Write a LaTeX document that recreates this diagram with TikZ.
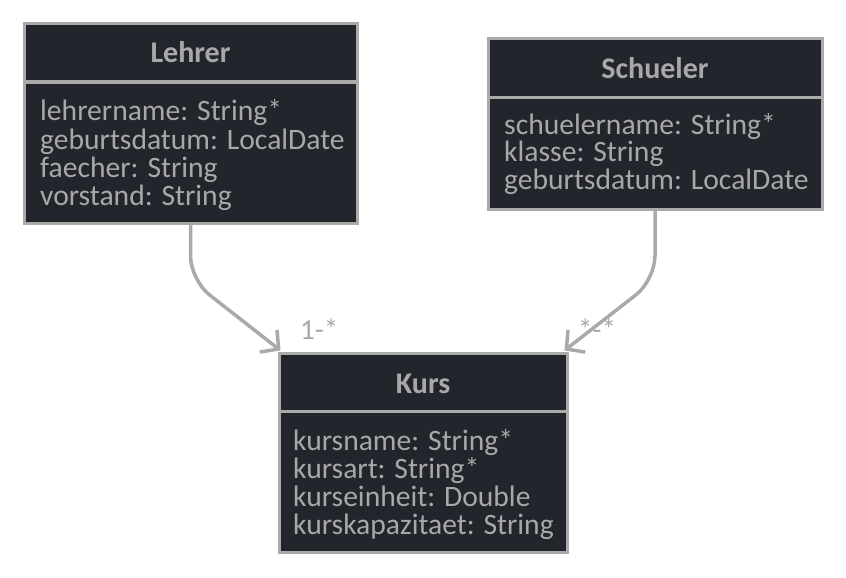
\documentclass[tikz,border=0pt]{standalone}
\usepackage{fontspec}
\setmainfont{Carlito}
\usetikzlibrary{arrows.meta,calc}
\definecolor{boxfill}{RGB}{34,37,43}
\definecolor{edge}{RGB}{170,170,170}
\definecolor{txt}{RGB}{168,168,168}
\tikzset{
  classbox/.style={draw=edge, fill=boxfill, line width=3pt, inner sep=0pt},
  sepline/.style={draw=edge, line width=3pt},
  title/.style={text=txt, font=\fontsize{30}{28}\selectfont\bfseries, anchor=base, inner sep=0pt},
  attr/.style={text=txt, font=\fontsize{29.6}{28}\selectfont, anchor=base west, inner sep=0pt},
  mult/.style={text=txt, font=\fontsize{29}{26}\selectfont, anchor=base west, inner sep=0pt},
  conn/.style={draw=edge, line width=3.5pt, rounded corners=24pt,
    -{Straight Barb[length=13pt,width=28pt,line width=3.5pt]}}
}
\begin{document}
\begin{tikzpicture}[x=1pt,y=-1pt]
\useasboundingbox (0,0) rectangle (846,578);
% Lehrer
\node[classbox, minimum width=333pt, minimum height=199pt] (lehrer) at (190.5,123.5) {};
\draw[sepline] (24,82) -- (357,82);
\node[title] (lehrerT) at (190.5,63) {Lehrer};
\foreach \t [count=\i] in {lehrername: String*, geburtsdatum: LocalDate, faecher: String, vorstand: String}
  \node[attr] (lehrerA\i) at (40,{121+28*(\i-1)}) {\t};
% Schueler
\node[classbox, minimum width=334pt, minimum height=170pt] (schueler) at (655,124) {};
\draw[sepline] (488,97) -- (822,97);
\node[title] (schuelerT) at (655,78) {Schueler};
\foreach \t [count=\i] in {schuelername: String*, klasse: String, geburtsdatum: LocalDate}
  \node[attr] (schuelerA\i) at (504,{134+27.8*(\i-1)}) {\t};
% Kurs
\node[classbox, minimum width=288pt, minimum height=199pt] (kurs) at (423,452.5) {};
\draw[sepline] (279,411) -- (567,411);
\node[title] (kursT) at (423,393) {Kurs};
\foreach \t [count=\i] in {kursname: String*, kursart: String*, kurseinheit: Double, kurskapazitaet: String}
  \node[attr] (kursA\i) at (293,{450+28.3*(\i-1)}) {\t};
% connectors
\coordinate (tipL) at ($(kurs.north west)+(3,-1)$);
\coordinate (tipR) at ($(kurs.north east)+(-4,-1)$);
\draw[conn] (lehrer.south) -- (190.5,280) -- (tipL);
\draw[conn] (schueler.south) -- (655,280) -- (tipR);
\node[mult] (m1) at (300,339) {1-*};
\node[mult] (m2) at (578,339) {*-*};
\end{tikzpicture}
\end{document}
